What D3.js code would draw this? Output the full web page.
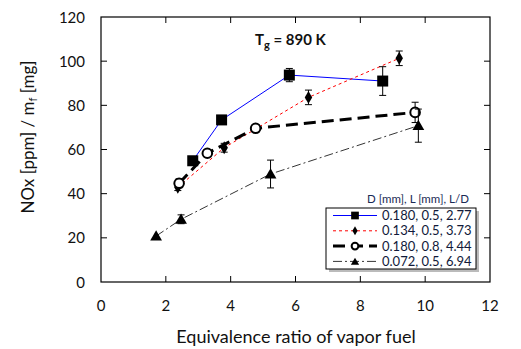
<!DOCTYPE html>
<html><head><meta charset="utf-8">
<script src="https://cdn.jsdelivr.net/npm/d3@7"></script>
<style>body{margin:0;background:#fff}svg{display:block}text{font-family:Lato,"Open Sans",sans-serif}</style>
</head><body>
<svg id="c" width="521" height="349"></svg>
<script>
const xTicks=[0,2,4,6,8,10,12];
const yTicks=[0,20,40,60,80,100,120];
const s1x=[2.83,3.72,5.81,8.69], s1y=[54.9,73.4,93.7,91.0], s1e=[0,1,3,6.5];
const s2x=[2.37,3.80,6.40,9.20], s2y=[42.9,60.8,83.6,101.3], s2e=[1.5,2,3.3,3.3];
const s3x=[2.41,3.28,4.77,9.69], s3y=[44.7,58.3,69.6,76.8], s3e=[2,1,1,4.6];
const s4x=[1.70,2.47,5.23,9.79], s4y=[20.8,28.4,48.9,70.8], s4e=[0,2,6.3,7.5];
const legendLabels=["0.180, 0.5, 2.77","0.134, 0.5, 3.73","0.180, 0.8, 4.44","0.072, 0.5, 6.94"];

const svg=d3.select("#c");
const L=101,R=490,T=17,B=282;
const x=d3.scaleLinear().domain([0,12]).range([L,R]);
const y=d3.scaleLinear().domain([0,120]).range([B,T]);

svg.append("rect").attr("x",L).attr("y",T).attr("width",R-L).attr("height",B-T).attr("fill","none").attr("stroke","#000").attr("stroke-width",1.2);
const tk=6;
xTicks.slice(1,-1).forEach(v=>{
  svg.append("line").attr("x1",x(v)).attr("x2",x(v)).attr("y1",B).attr("y2",B-tk).attr("stroke","#000");
  svg.append("line").attr("x1",x(v)).attr("x2",x(v)).attr("y1",T).attr("y2",T+tk).attr("stroke","#000");
});
yTicks.slice(1,-1).forEach(v=>{
  svg.append("line").attr("x1",L).attr("x2",L+tk).attr("y1",y(v)).attr("y2",y(v)).attr("stroke","#000");
  svg.append("line").attr("x1",R).attr("x2",R-tk).attr("y1",y(v)).attr("y2",y(v)).attr("stroke","#000");
});
xTicks.forEach(v=>svg.append("text").attr("x",x(v)).attr("y",311).attr("text-anchor","middle").attr("font-size",15).attr("fill","#111").text(v));
yTicks.forEach(v=>svg.append("text").attr("x",85).attr("y",y(v)+5.5).attr("text-anchor","end").attr("font-size",15).attr("fill","#111").text(v));

svg.append("text").attr("x",296).attr("y",343).attr("text-anchor","middle").attr("font-size",18).attr("fill","#111").text("Equivalence ratio of vapor fuel");
const yl=svg.append("text").attr("transform","translate(34,137) rotate(-90)").attr("text-anchor","middle").attr("font-size",17).attr("fill","#111");
yl.append("tspan").text("NOx [ppm] / m");
yl.append("tspan").attr("font-size",11).attr("dy",3).text("f");
yl.append("tspan").attr("dy",-3).text(" [mg]");

const tt=svg.append("text").attr("x",255).attr("y",45).attr("font-size",15).attr("font-weight","bold").attr("fill","#111");
tt.append("tspan").text("T");
tt.append("tspan").attr("font-size",11).attr("dy",4).text("g");
tt.append("tspan").attr("dy",-4).text(" = 890 K");

const series=[
 {xs:s1x,ys:s1y,es:s1e,color:"#0000ff",w:1,dash:null,m:"square"},
 {xs:s2x,ys:s2y,es:s2e,color:"#ff0000",w:1,dash:"3,3",m:"diamond"},
 {xs:s3x,ys:s3y,es:s3e,color:"#000",w:3,dash:"12,6",m:"circle"},
 {xs:s4x,ys:s4y,es:s4e,color:"#000",w:0.8,dash:"9,3,2,3",m:"triangle"}
];
const line=d3.line().x(d=>x(d[0])).y(d=>y(d[1]));
function marker(g,type,cx,cy,scale){
  scale=scale||1;
  if(type==="square") g.append("rect").attr("x",cx-5.5*scale).attr("y",cy-5.5*scale).attr("width",11*scale).attr("height",11*scale).attr("fill","#000");
  if(type==="diamond") g.append("path").attr("d",d3.symbol(d3.symbolDiamond,48*scale*scale)()).attr("transform",`translate(${cx},${cy})`).attr("fill","#000");
  if(type==="circle") g.append("circle").attr("cx",cx).attr("cy",cy).attr("r",4.8*scale).attr("fill","#fff").attr("stroke","#000").attr("stroke-width",2);
  if(type==="triangle") g.append("path").attr("d",d3.symbol(d3.symbolTriangle,60*scale*scale)()).attr("transform",`translate(${cx},${cy+1})`).attr("fill","#000");
}
series.forEach(s=>{
  const pts=s.xs.map((v,i)=>[v,s.ys[i]]);
  svg.append("path").datum(pts).attr("d",line).attr("fill","none").attr("stroke",s.color).attr("stroke-width",s.w).attr("stroke-dasharray",s.dash);
});
series.forEach(s=>{
  s.xs.forEach((v,i)=>{
    const e=s.es[i]; if(!e) return;
    const cx=x(v);
    svg.append("line").attr("x1",cx).attr("x2",cx).attr("y1",y(s.ys[i]-e)).attr("y2",y(s.ys[i]+e)).attr("stroke","#000");
    [s.ys[i]-e,s.ys[i]+e].forEach(yy=>svg.append("line").attr("x1",cx-3.5).attr("x2",cx+3.5).attr("y1",y(yy)).attr("y2",y(yy)).attr("stroke","#000"));
  });
  s.xs.forEach((v,i)=>marker(svg,s.m,x(v),y(s.ys[i])));
});

svg.append("text").attr("x",418).attr("y",203).attr("text-anchor","middle").attr("font-size",11.5).attr("fill","#1a2a55").text("D [mm], L [mm], L/D");
svg.append("rect").attr("x",329).attr("y",211).attr("width",150).attr("height",61).attr("fill","#bbb");
svg.append("rect").attr("x",326).attr("y",208).attr("width",150).attr("height",61).attr("fill","#fff").attr("stroke","#000").attr("stroke-width",1);
series.forEach((s,i)=>{
  const ly=215.5+i*15.3;
  svg.append("line").attr("x1",333).attr("x2",377).attr("y1",ly).attr("y2",ly).attr("stroke",s.color).attr("stroke-width",s.w).attr("stroke-dasharray",s.dash);
  marker(svg,s.m,355,ly,0.7);
  svg.append("text").attr("x",382).attr("y",ly+4.5).attr("font-size",13).attr("fill","#111a3a").text(legendLabels[i]);
});
</script>
</body></html>
